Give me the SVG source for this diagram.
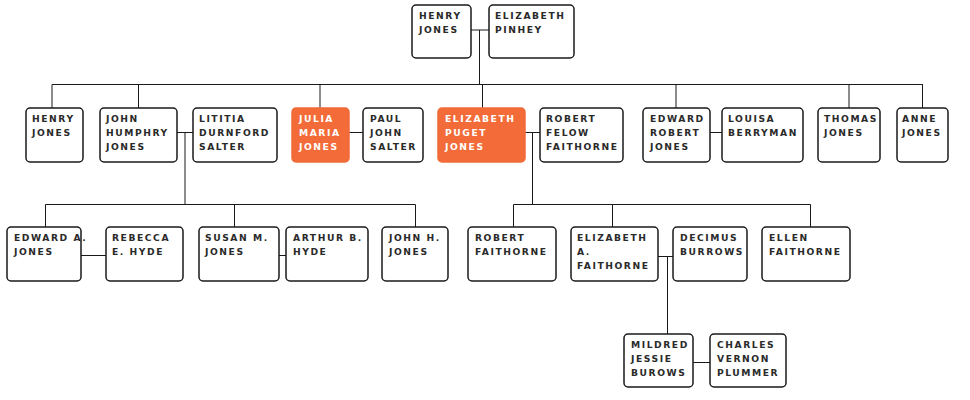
<svg xmlns="http://www.w3.org/2000/svg" width="970" height="400" viewBox="0 0 970 400">
<style>
.n rect{fill:#fff;stroke:#1a1a1a;stroke-width:1.5}
.n.h rect{fill:#F26B38;stroke:#F26B38}
.n text{font-family:"DejaVu Sans",sans-serif;font-weight:bold;font-size:9.2px;letter-spacing:1.55px;fill:#2a2a2a}
.n.h text{fill:#fff}
#links path{fill:none;stroke:#1a1a1a;stroke-width:1}
</style>
<rect width="970" height="400" fill="#fff"/>
<g id="links">
<path d="M471,30H489M479.5,30V84.5M52,84.5H923M52,84.5V108M138.5,84.5V108M320,84.5V108M482.5,84.5V108M676,84.5V108M849,84.5V108M922.5,84.5V108"/>
<path d="M177,132.5H193M185,132.5V204.5M45.5,204.5H415.5M45.5,204.5V227M234.5,204.5V227M415.5,204.5V227M81,255.5H106M279,255.5H286"/>
<path d="M349,132.5H363M710,132.5H722"/>
<path d="M525,132.5H540M532.5,132.5V204.5M513.5,204.5H810.5M513.5,204.5V227M612.5,204.5V227M810.5,204.5V227M658,256.5H673M667.5,256.5V334M693,362.5H710"/>
</g>
<g id="henry-jones-sr" class="n"><rect x="412" y="5" width="59" height="53" rx="4"/><text x="419" y="19">HENRY</text><text x="419" y="33">JONES</text></g>
<g id="elizabeth-pinhey" class="n"><rect x="489" y="5" width="85" height="53" rx="4"/><text x="495" y="19">ELIZABETH</text><text x="495" y="33">PINHEY</text></g>
<g id="henry-jones" class="n"><rect x="26" y="108" width="57" height="54" rx="4"/><text x="32" y="122">HENRY</text><text x="32" y="136">JONES</text></g>
<g id="john-humphry-jones" class="n"><rect x="100" y="108" width="77" height="54" rx="4"/><text x="106" y="122">JOHN</text><text x="106" y="136">HUMPHRY</text><text x="106" y="150">JONES</text></g>
<g id="lititia-durnford-salter" class="n"><rect x="193" y="108" width="84" height="54" rx="4"/><text x="199" y="122">LITITIA</text><text x="199" y="136">DURNFORD</text><text x="199" y="150">SALTER</text></g>
<g id="julia-maria-jones" class="n h"><rect x="292" y="108" width="57" height="54" rx="4"/><text x="299" y="122">JULIA</text><text x="299" y="136">MARIA</text><text x="299" y="150">JONES</text></g>
<g id="paul-john-salter" class="n"><rect x="363" y="108" width="60" height="54" rx="4"/><text x="370" y="122">PAUL</text><text x="370" y="136">JOHN</text><text x="370" y="150">SALTER</text></g>
<g id="elizabeth-puget-jones" class="n h"><rect x="438" y="108" width="87" height="54" rx="4"/><text x="445" y="122">ELIZABETH</text><text x="445" y="136">PUGET</text><text x="445" y="150">JONES</text></g>
<g id="robert-felow-faithorne" class="n"><rect x="540" y="108" width="83" height="54" rx="4"/><text x="546" y="122">ROBERT</text><text x="546" y="136">FELOW</text><text x="546" y="150">FAITHORNE</text></g>
<g id="edward-robert-jones" class="n"><rect x="643" y="108" width="67" height="54" rx="4"/><text x="650" y="122">EDWARD</text><text x="650" y="136">ROBERT</text><text x="650" y="150">JONES</text></g>
<g id="louisa-berryman" class="n"><rect x="722" y="108" width="81" height="54" rx="4"/><text x="728" y="122">LOUISA</text><text x="728" y="136">BERRYMAN</text></g>
<g id="thomas-jones" class="n"><rect x="818" y="108" width="62" height="54" rx="4"/><text x="824" y="122">THOMAS</text><text x="824" y="136">JONES</text></g>
<g id="anne-jones" class="n"><rect x="897" y="108" width="51" height="54" rx="4"/><text x="902" y="122">ANNE</text><text x="902" y="136">JONES</text></g>
<g id="edward-a-jones" class="n"><rect x="7" y="227" width="74" height="54" rx="4"/><text x="14" y="241">EDWARD A.</text><text x="14" y="255">JONES</text></g>
<g id="rebecca-e-hyde" class="n"><rect x="106" y="227" width="77" height="54" rx="4"/><text x="112" y="241">REBECCA</text><text x="112" y="255">E. HYDE</text></g>
<g id="susan-m-jones" class="n"><rect x="199" y="227" width="80" height="54" rx="4"/><text x="205" y="241">SUSAN M.</text><text x="205" y="255">JONES</text></g>
<g id="arthur-b-hyde" class="n"><rect x="286" y="227" width="82" height="54" rx="4"/><text x="293" y="241">ARTHUR B.</text><text x="293" y="255">HYDE</text></g>
<g id="john-h-jones" class="n"><rect x="382" y="227" width="66" height="54" rx="4"/><text x="389" y="241">JOHN H.</text><text x="389" y="255">JONES</text></g>
<g id="robert-faithorne" class="n"><rect x="468" y="227" width="88" height="54" rx="4"/><text x="475" y="241">ROBERT</text><text x="475" y="255">FAITHORNE</text></g>
<g id="elizabeth-a-faithorne" class="n"><rect x="571" y="227" width="87" height="54" rx="4"/><text x="577" y="241">ELIZABETH</text><text x="577" y="255">A.</text><text x="577" y="269">FAITHORNE</text></g>
<g id="decimus-burrows" class="n"><rect x="673" y="227" width="74" height="54" rx="4"/><text x="680" y="241">DECIMUS</text><text x="680" y="255">BURROWS</text></g>
<g id="ellen-faithorne" class="n"><rect x="762" y="227" width="88" height="54" rx="4"/><text x="769" y="241">ELLEN</text><text x="769" y="255">FAITHORNE</text></g>
<g id="mildred-jessie-burows" class="n"><rect x="624" y="334" width="69" height="53" rx="4"/><text x="631" y="348">MILDRED</text><text x="631" y="362">JESSIE</text><text x="631" y="376">BUROWS</text></g>
<g id="charles-vernon-plummer" class="n"><rect x="710" y="334" width="76" height="53" rx="4"/><text x="717" y="348">CHARLES</text><text x="717" y="362">VERNON</text><text x="717" y="376">PLUMMER</text></g>
</svg>
